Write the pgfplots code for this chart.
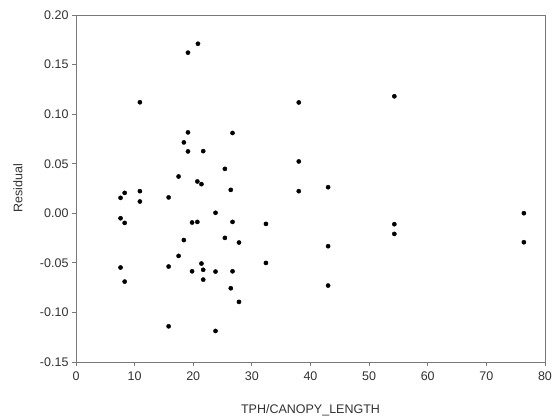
\documentclass[border=0pt]{standalone}
\usepackage{pgfplots}
\pgfplotsset{compat=1.18}
\usepackage{fontspec}
\setmainfont{Liberation Sans}
\definecolor{axgray}{RGB}{120,120,120}
\definecolor{txt}{RGB}{50,50,50}
\begin{document}
\begin{tikzpicture}
\path[use as bounding box] (-76bp,-57bp) rectangle (481bp,362bp);
\begin{axis}[
  scale only axis,
  width=469bp, height=347bp,
  xmin=0, xmax=80, ymin=-0.15, ymax=0.20,
  xtick={0,10,...,80},
  ytick={-0.15,-0.10,...,0.20},
  axis line style={axgray, line width=1pt},
  tick style={axgray, line width=0.8pt},
  tick align=outside,
  major tick length=4bp,
  xtick pos=bottom, ytick pos=left,
  yticklabel style={/pgf/number format/.cd, fixed, fixed zerofill, precision=2},
  /pgf/number format/assume math mode=true,
  ticklabel style={font=\fontsize{12.5bp}{14bp}\selectfont, text=txt},
  xlabel={TPH/CANOPY\_LENGTH},
  ylabel={Residual},
  every axis x label/.style={font=\fontsize{12.5bp}{14bp}\selectfont, text=txt, at={(axis description cs:0.5,-0.138)}, anchor=center},
  every axis y label/.style={font=\fontsize{12.5bp}{14bp}\selectfont, text=txt, at={(axis description cs:-0.124,0.5)}, rotate=90, anchor=center},
  xticklabel style={yshift=-2bp},
]
\addplot[only marks, mark=*, mark size=2.1bp, black] coordinates {
(20.8,0.171) (19.1,0.162) (10.9,0.112) (19.1,0.0816) (26.7,0.081)
(18.4,0.0715) (19.1,0.0624) (21.7,0.0627) (25.4,0.0448) (17.5,0.0371)
(20.7,0.0321) (21.4,0.0294) (8.3,0.0206) (10.9,0.0223) (7.6,0.0156)
(15.8,0.016) (26.4,0.0236)
(10.9,0.0119) (7.6,-0.005) (8.3,-0.0097) (23.8,0.0005) (19.8,-0.0093)
(20.7,-0.0087) (26.7,-0.0087) (32.4,-0.0107) (18.4,-0.027) (25.4,-0.0248)
(27.8,-0.0295) (17.5,-0.043) (21.4,-0.0507) (7.6,-0.0547) (15.8,-0.0537)
(32.4,-0.0501) (21.7,-0.057) (19.8,-0.0585) (23.8,-0.0588) (26.7,-0.0585)
(21.7,-0.0669) (8.3,-0.0689) (26.4,-0.0756) (27.8,-0.0894) (15.8,-0.114)
(23.8,-0.1187)
(38.0,0.1118) (54.3,0.118) (38.0,0.0523) (38.0,0.0223) (43.0,0.0263)
(43.0,-0.0332) (43.0,-0.0729) (54.3,-0.011) (54.3,-0.0208)
(76.4,0.0001) (76.4,-0.0292)
};
\end{axis}
\end{tikzpicture}
\end{document}
